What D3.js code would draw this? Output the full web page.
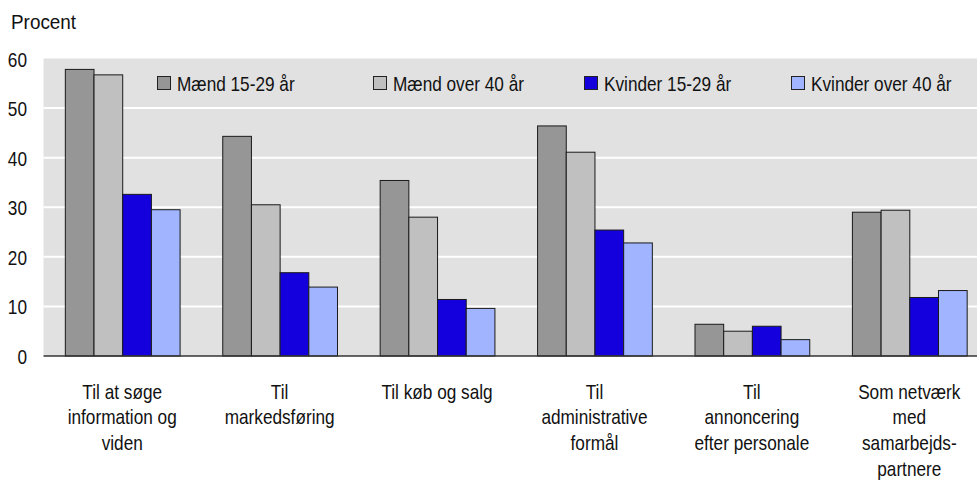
<!DOCTYPE html>
<html>
<head>
<meta charset="utf-8">
<script src="https://cdn.jsdelivr.net/npm/d3@7"></script>
<style>
  html, body { margin: 0; padding: 0; background: #ffffff; }
  svg text { font-family: "Liberation Sans", Arial, sans-serif; fill: #111; }
</style>
</head>
<body>
<svg id="chart" width="977" height="484"></svg>
<script>
const categories = [
  ["Til at søge", "information og", "viden"],
  ["Til", "markedsføring"],
  ["Til køb og salg"],
  ["Til", "administrative", "formål"],
  ["Til", "annoncering", "efter personale"],
  ["Som netværk", "med", "samarbejds-", "partnere"]
];
const seriesNames = ["Mænd 15-29 år", "Mænd over 40 år", "Kvinder 15-29 år", "Kvinder over 40 år"];
const maend1529   = [57.8, 44.3, 35.4, 46.4, 6.4, 29.0];
const maend40     = [56.7, 30.5, 28.0, 41.1, 5.0, 29.4];
const kvinder1529 = [32.6, 16.8, 11.4, 25.4, 6.0, 11.8];
const kvinder40   = [29.5, 13.9, 9.6, 22.8, 3.3, 13.2];
const yTicks = [0, 10, 20, 30, 40, 50, 60];
const colors = ["#969696", "#c0c0c0", "#1400dc", "#a0b4ff"];

const seriesValues = [maend1529, maend40, kvinder1529, kvinder40];
const svg = d3.select("#chart");
const fontSize = 21;
const narrow = 0.82;

const plotLeft = 43.5, plotRight = 977;
const y = d3.scaleLinear().domain([0, 60]).range([356, 58.5]);
const x0 = d3.scaleBand().domain(d3.range(categories.length))
  .range([43.5, 988]).paddingInner(0.271).paddingOuter(0.1355);
const x1 = d3.scaleBand().domain(d3.range(seriesNames.length))
  .range([0, x0.bandwidth()]);

// background
svg.append("rect")
  .attr("x", plotLeft).attr("y", y(60))
  .attr("width", plotRight - plotLeft).attr("height", y(0) - y(60))
  .attr("fill", "#e1e1e1");

// gridlines
svg.append("g").selectAll("line")
  .data(yTicks.filter(t => t > 0 && t < 60))
  .join("line")
  .attr("x1", plotLeft).attr("x2", plotRight)
  .attr("y1", d => y(d)).attr("y2", d => y(d))
  .attr("stroke", "#ffffff").attr("stroke-width", 2);

// y axis labels
const yAxis = d3.axisLeft(y).tickValues(yTicks).tickSize(0).tickPadding(0);
const yg = svg.append("g").attr("transform", "translate(27,0)").call(yAxis);
yg.select(".domain").remove();
yg.selectAll("text")
  .style("font-size", fontSize + "px")
  .style("font-family", '"Liberation Sans", Arial, sans-serif')
  .attr("fill", "#111")
  .attr("x", 0)
  .attr("dy", "0.36em")
  .attr("transform", `scale(${narrow},1)`);

// bars
const groups = svg.append("g").selectAll("g")
  .data(categories.map((c, i) => i))
  .join("g")
  .attr("transform", i => `translate(${x0(i)},0)`);
groups.selectAll("rect")
  .data(i => seriesValues.map((vals, s) => ({ s, v: vals[i] })))
  .join("rect")
  .attr("x", d => x1(d.s) + 0.5)
  .attr("y", d => y(d.v))
  .attr("width", x1.bandwidth())
  .attr("height", d => y(0) - y(d.v))
  .attr("fill", d => colors[d.s])
  .attr("stroke", "#1a1a1a")
  .attr("stroke-width", 1);

// baseline
svg.append("line")
  .attr("x1", plotLeft).attr("x2", plotRight)
  .attr("y1", y(0)).attr("y2", y(0))
  .attr("stroke", "#333").attr("stroke-width", 1.5);

// x labels
const xl = svg.append("g").selectAll("text")
  .data(categories)
  .join("text")
  .attr("text-anchor", "middle")
  .style("font-size", fontSize + "px")
  .attr("transform", (d, i) => `translate(${x0(i) + x0.bandwidth() / 2},398.5) scale(${narrow},1)`);
xl.selectAll("tspan")
  .data(d => d)
  .join("tspan")
  .attr("x", 0)
  .attr("y", (d, i) => i * 26)
  .text(d => d);

// legend
const legendX = [157, 373, 584, 791];
const lg = svg.append("g").selectAll("g")
  .data(seriesNames)
  .join("g")
  .attr("transform", (d, i) => `translate(${legendX[i]},76)`);
lg.append("rect")
  .attr("x", 0.5).attr("y", 0.5)
  .attr("width", 13).attr("height", 13)
  .attr("fill", (d, i) => colors[i])
  .attr("stroke", "#222").attr("stroke-width", 1);
lg.append("text")
  .attr("transform", `translate(20,14.5) scale(${narrow},1)`)
  .style("font-size", fontSize + "px")
  .text(d => d);

// title
svg.append("text")
  .attr("transform", "translate(11,28.5) scale(0.9,1)")
  .style("font-size", fontSize + "px")
  .text("Procent");
</script>
</body>
</html>
